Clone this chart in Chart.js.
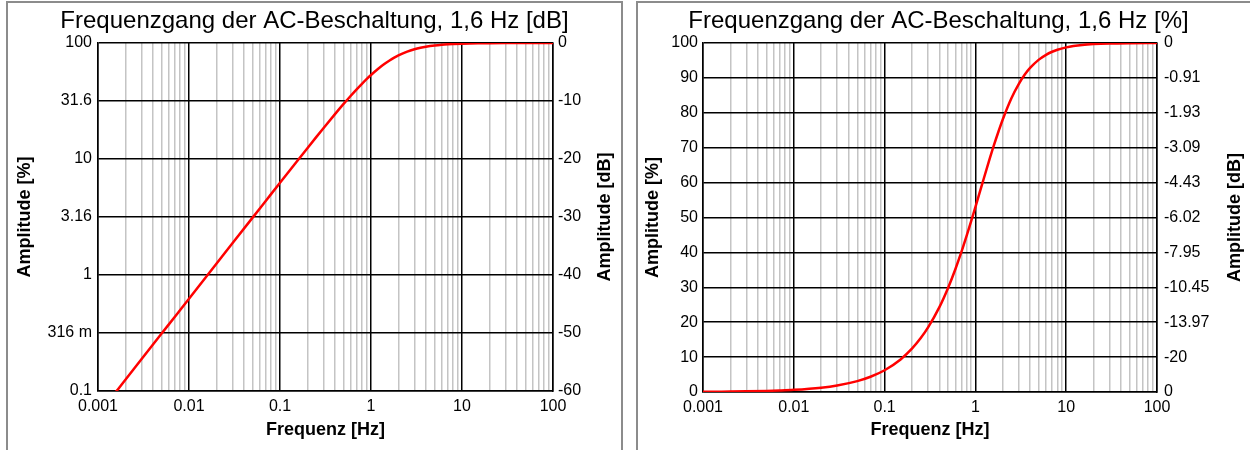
<!DOCTYPE html>
<html>
<head>
<meta charset="utf-8">
<script src="https://cdn.jsdelivr.net/npm/chart.js@4/dist/chart.umd.min.js"></script>
<style>
  html, body { margin: 0; padding: 0; background: #fff; width: 1250px; height: 450px; overflow: hidden; }
  .panel { position: absolute; top: 1px; border: 2px solid #8c8c8c; border-bottom: none; box-sizing: border-box; height: 470px; }
  #p1 { left: 6px; width: 617px; }
  #p2 { left: 636px; width: 640px; }
  canvas { position: absolute; }
  #c1 { left: 8px; top: 3px; }
  #c2 { left: 638px; top: 3px; }
</style>
</head>
<body>
<div class="panel" id="p1"></div>
<div class="panel" id="p2"></div>
<canvas id="c1" width="613" height="447"></canvas>
<canvas id="c2" width="613" height="447"></canvas>
<script>
// Frequency response of the AC coupling (high-pass, 1.6 Hz corner)
const freqHz = [0.001, 0.0016, 0.002, 0.003, 0.005, 0.007, 0.01, 0.02, 0.03, 0.05, 0.07,
  0.1, 0.15, 0.2, 0.25, 0.3, 0.4, 0.5, 0.6, 0.7, 0.8, 0.9, 1, 1.2, 1.4, 1.6, 1.8, 2, 2.5, 3, 3.5, 4, 5, 6, 7, 8,
  10, 12, 15, 20, 30, 50, 100];
const amplitudePct = [0.0625, 0.1, 0.125, 0.1875, 0.3125, 0.4375, 0.625, 1.25, 1.875, 3.124, 4.371,
  6.24, 9.33, 12.40, 15.44, 18.43, 24.25, 29.83, 35.11, 40.06, 44.72, 49.04, 53.0, 60.0, 65.85, 70.71, 74.71, 78.09, 84.26, 88.24, 90.95, 92.85, 95.24, 96.62, 97.49, 98.07,
  98.74, 99.12, 99.44, 99.68, 99.86, 99.95, 99.99];

// Frequency axis: decades with labels, minor lines at 2..9
const decades = [0.001, 0.01, 0.1, 1, 10, 100];
const decadeLabels = ['0.001', '0.01', '0.1', '1', '10', '100'];

// Left chart: logarithmic percent axis and matching dB axis
const pctLogTicks = [0.1, 0.316, 1, 3.16, 10, 31.6, 100];
const pctLogLabels = ['0.1', '316 m', '1', '3.16', '10', '31.6', '100'];
const dbLinTicks = [-60, -50, -40, -30, -20, -10, 0];

// Right chart: linear percent axis and dB equivalents
const pctLinTicks = [0, 10, 20, 30, 40, 50, 60, 70, 80, 90, 100];
const dbLabels = ['0', '-20', '-13.97', '-10.45', '-7.95', '-6.02', '-4.43', '-3.09', '-1.93', '-0.91', '0'];

Chart.defaults.font.family = '"Liberation Sans", Arial, sans-serif';
Chart.defaults.color = '#000';

const points = freqHz.map((f, i) => ({ x: f, y: amplitudePct[i] }));

function isDecade(v) {
  return decades.some(d => Math.abs(v - d) / d < 1e-6);
}

function freqTicks() {
  const out = [];
  for (let i = 0; i < decades.length - 1; i++) {
    for (let m = 1; m <= 9; m++) out.push({ value: parseFloat((m * decades[i]).toPrecision(6)) });
  }
  out.push({ value: decades[decades.length - 1] });
  return out;
}

// Right-hand axis title, written bottom-to-top like the left one
const rightTitle = {
  id: 'rightTitle',
  afterDraw(chart, args, opts) {
    const ctx = chart.ctx;
    const a = chart.chartArea;
    ctx.save();
    ctx.translate(opts.x, (a.top + a.bottom) / 2);
    ctx.rotate(-Math.PI / 2);
    ctx.font = 'bold 18px "Liberation Sans", Arial, sans-serif';
    ctx.fillStyle = '#000';
    ctx.textAlign = 'center';
    ctx.textBaseline = 'middle';
    ctx.fillText(opts.text, 0, 0);
    ctx.restore();
  }
};

function xScale(height) {
  return {
    type: 'logarithmic',
    position: 'bottom',
    min: 0.001,
    max: 100,
    afterBuildTicks: s => { s.ticks = freqTicks(); },
    afterFit: s => { s.height = height; },
    ticks: {
      autoSkip: false, maxRotation: 0, minRotation: 0, padding: 6,
      font: { size: 16 },
      callback: function (v) {
        const i = decades.findIndex(d => Math.abs(v - d) / d < 1e-6);
        return i >= 0 ? decadeLabels[i] : '';
      }
    },
    grid: {
      drawTicks: false,
      lineWidth: ctx => (ctx.tick && isDecade(ctx.tick.value)) ? 1.5 : 1.5,
      color: ctx => (ctx.tick && isDecade(ctx.tick.value)) ? '#000' : '#c4c4c4'
    },
    border: { color: '#000', width: 1.5 },
    title: {
      display: true, text: 'Frequenz [Hz]',
      font: { size: 18, weight: 'bold' },
      padding: { top: 0, bottom: 8.7 }
    }
  };
}

function titleOpts(text) {
  return {
    display: true, text: text, color: '#000',
    font: { size: 24, weight: 'normal' },
    padding: { top: 4, bottom: 7.2 }
  };
}

const lineDataset = {
  data: points,
  borderColor: '#ff0000',
  borderWidth: 2.5,
  pointRadius: 0,
  fill: false,
  cubicInterpolationMode: 'monotone'
};

// Chart 1: amplitude in percent (log) with dB scale
new Chart(document.getElementById('c1'), {
  type: 'line',
  data: { datasets: [Object.assign({}, lineDataset, { yAxisID: 'y' })] },
  plugins: [rightTitle],
  options: {
    responsive: false, animation: false,
    layout: { padding: 0 },
    plugins: {
      legend: { display: false }, tooltip: { enabled: false },
      title: titleOpts('Frequenzgang der AC-Beschaltung, 1,6 Hz [dB]'),
      rightTitle: { text: 'Amplitude [dB]', x: 597 }
    },
    scales: {
      x: xScale(59),
      y: {
        type: 'logarithmic', position: 'left', min: 0.1, max: 100,
        afterBuildTicks: s => { s.ticks = pctLogTicks.map(v => ({ value: v })); },
        afterFit: s => { s.width = 90; },
        ticks: {
          autoSkip: false, padding: 6, font: { size: 16 },
          callback: v => { const i = pctLogTicks.findIndex(t => Math.abs(t - v) / t < 1e-6); return i >= 0 ? pctLogLabels[i] : ''; }
        },
        grid: { drawTicks: false, color: '#000', lineWidth: 1.5 },
        border: { color: '#000', width: 1.5 },
        title: { display: true, text: 'Amplitude [%]', font: { size: 18, weight: 'bold' }, padding: { top: 6.7, bottom: 0 } }
      },
      yDb: {
        type: 'linear', position: 'right', min: -60, max: 0,
        afterBuildTicks: s => { s.ticks = dbLinTicks.map(v => ({ value: v })); },
        afterFit: s => { s.width = 68; },
        ticks: { autoSkip: false, padding: 5, font: { size: 16 }, callback: v => String(v) },
        grid: { drawOnChartArea: false, drawTicks: false },
        border: { color: '#000', width: 1.5 },
        title: { display: false }
      }
    }
  }
});

// Chart 2: amplitude in percent (linear) with dB equivalents
new Chart(document.getElementById('c2'), {
  type: 'line',
  data: { datasets: [Object.assign({}, lineDataset, { yAxisID: 'y' })] },
  plugins: [rightTitle],
  options: {
    responsive: false, animation: false,
    layout: { padding: { left: 0, top: 0, bottom: 0, right: 12 } },
    plugins: {
      legend: { display: false }, tooltip: { enabled: false },
      title: titleOpts('Frequenzgang der AC-Beschaltung, 1,6 Hz [%]'),
      rightTitle: { text: 'Amplitude [dB]', x: 597 }
    },
    scales: {
      x: xScale(58),
      y: {
        type: 'linear', position: 'left', min: 0, max: 100,
        afterBuildTicks: s => { s.ticks = pctLinTicks.map(v => ({ value: v })); },
        afterFit: s => { s.width = 65; },
        ticks: { autoSkip: false, padding: 5, font: { size: 16 }, callback: v => String(v) },
        grid: { drawTicks: false, color: '#000', lineWidth: 1.5 },
        border: { color: '#000', width: 1.5 },
        title: { display: true, text: 'Amplitude [%]', font: { size: 18, weight: 'bold' }, padding: { top: 4.2, bottom: 0 } }
      },
      yDb: {
        type: 'linear', position: 'right', min: 0, max: 100,
        afterBuildTicks: s => { s.ticks = pctLinTicks.map(v => ({ value: v })); },
        afterFit: s => { s.width = 82; },
        ticks: {
          autoSkip: false, padding: 7, font: { size: 16 },
          callback: v => { const i = pctLinTicks.indexOf(v); return i >= 0 ? dbLabels[i] : ''; }
        },
        grid: { drawOnChartArea: false, drawTicks: false },
        border: { color: '#000', width: 1.5 },
        title: { display: false }
      }
    }
  }
});
</script>
</body>
</html>
